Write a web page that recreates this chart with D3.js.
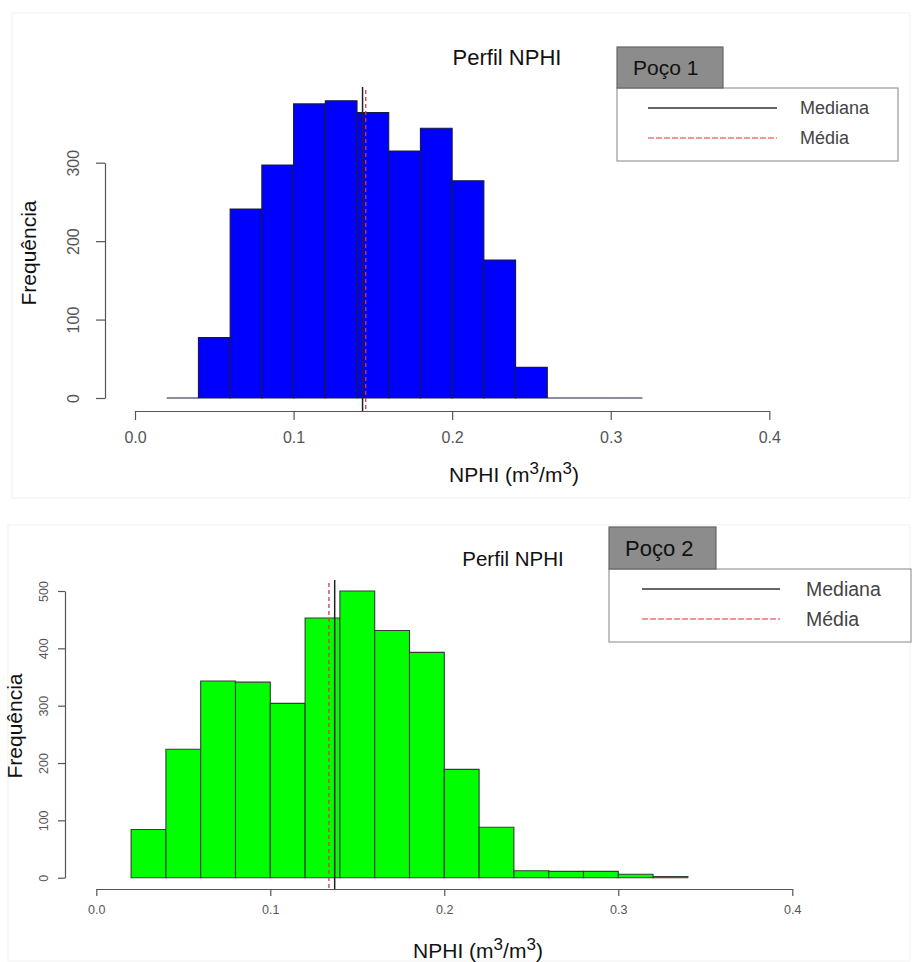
<!DOCTYPE html>
<html>
<head>
<meta charset="utf-8">
<script src="https://cdn.jsdelivr.net/npm/d3@7"></script>
<style>
  body { margin: 0; background: #fff; }
  svg { display: block; font-family: "Liberation Sans", Arial, sans-serif; }
</style>
</head>
<body>
<div id="canvas"></div>
<script>
// histogram data
const binEdges1 = [0.02, 0.04, 0.06, 0.08, 0.1, 0.12, 0.14, 0.16, 0.18, 0.2, 0.22, 0.24, 0.26, 0.28, 0.3, 0.32];
const counts1 = [0, 77, 241, 297, 375, 379, 364, 315, 344, 277, 176, 39, 0, 0, 0];
const median1 = 0.1435;
const mean1 = 0.1455;

const binEdges2 = [0.02, 0.04, 0.06, 0.08, 0.1, 0.12, 0.14, 0.16, 0.18, 0.2, 0.22, 0.24, 0.26, 0.28, 0.3, 0.32, 0.34];
const counts2 = [84, 224, 343, 341, 304, 453, 500, 431, 393, 189, 88, 12, 11, 11, 6, 2];
const median2 = 0.137;
const mean2 = 0.1337;

const xTicks = [0, 0.1, 0.2, 0.3, 0.4];
const yTicks1 = [0, 100, 200, 300];
const yTicks2 = [0, 100, 200, 300, 400, 500];
const legendLabels = ["Mediana", "Média"];
const wellNames = ["Poço 1", "Poço 2"];
const chartTitle = "Perfil NPHI";
const yLabel = "Frequência";

const svg = d3
  .select("#canvas")
  .append("svg")
  .attr("width", 915)
  .attr("height", 962);

const DrawPanel = (edges, counts, median, mean, yTicks, well, L) => {
  const bins = counts.map((c, i) => ({ x0: edges[i], x1: edges[i + 1], n: c }));

  // faint frame of the panel
  svg
    .append("rect")
    .attr("x", L.frame[0])
    .attr("y", L.frame[1])
    .attr("width", L.frame[2])
    .attr("height", L.frame[3])
    .attr("fill", "none")
    .attr("stroke", "#f1f1f1");

  const x = d3.scaleLinear().domain([0, 0.4]).range(L.xRange);
  const yMax = d3.max(yTicks);
  const y = d3.scaleLinear().domain([0, yMax]).range(L.yRange);

  // bars as closed paths so empty bins still show as a line
  svg
    .append("g")
    .selectAll("path")
    .data(bins)
    .join("path")
    .attr("d", (d) => {
      const p = d3.path();
      p.moveTo(x(d.x0), y(0));
      p.lineTo(x(d.x0), y(d.n));
      p.lineTo(x(d.x1), y(d.n));
      p.lineTo(x(d.x1), y(0));
      p.closePath();
      return p.toString();
    })
    .attr("fill", L.fill)
    .attr("stroke", L.stroke)
    .attr("stroke-width", 1.1);

  // x axis (offset below the bars, R style)
  const xAxis = svg
    .append("g")
    .attr("transform", "translate(0," + L.xAxisY + ")")
    .call(d3.axisBottom(x).tickValues(xTicks).tickSize(L.tick).tickSizeOuter(0).tickPadding(L.xPad).tickFormat(d3.format(".1f")));
  xAxis.select(".domain").attr("stroke", "#555").attr("stroke-width", 1.2);
  xAxis.selectAll(".tick line").attr("stroke", "#555").attr("stroke-width", 1.2);
  xAxis
    .selectAll(".tick text")
    .attr("fill", "#555")
    .style("font-size", L.tickFont + "px")
    .style("font-family", "Liberation Sans, Arial, sans-serif");

  // y axis
  const yAxis = svg
    .append("g")
    .attr("transform", "translate(" + L.yAxisX + ",0)")
    .call(d3.axisLeft(y).tickValues(yTicks).tickSize(L.tick).tickSizeOuter(0).tickFormat(d3.format("d")));
  yAxis.select(".domain").attr("stroke", "#555").attr("stroke-width", 1.2);
  yAxis.selectAll(".tick line").attr("stroke", "#555").attr("stroke-width", 1.2);
  yAxis
    .selectAll(".tick text")
    .attr("fill", "#555")
    .attr("x", null)
    .attr("dy", null)
    .attr("transform", "translate(" + -L.yPad + ",0) rotate(-90)")
    .attr("text-anchor", "middle")
    .style("font-size", L.tickFont + "px")
    .style("font-family", "Liberation Sans, Arial, sans-serif");

  // median and mean lines
  svg
    .append("line")
    .attr("x1", x(median))
    .attr("x2", x(median))
    .attr("y1", L.vTop)
    .attr("y2", L.xAxisY)
    .attr("stroke", "#222")
    .attr("stroke-width", 1.5);
  svg
    .append("line")
    .attr("x1", x(mean))
    .attr("x2", x(mean))
    .attr("y1", L.vTop + 3)
    .attr("y2", L.xAxisY)
    .attr("stroke", "#d83a3a")
    .attr("stroke-width", 1.3)
    .attr("stroke-dasharray", "4,3");

  // title
  svg
    .append("text")
    .attr("x", L.title[0])
    .attr("y", L.title[1])
    .attr("text-anchor", "middle")
    .style("font-size", L.titleFont + "px")
    .attr("fill", "#111")
    .text(chartTitle);

  // y label
  svg
    .append("text")
    .attr("transform", "translate(" + L.yLab[0] + "," + L.yLab[1] + ") rotate(-90)")
    .attr("text-anchor", "middle")
    .attr("dy", "0.35em")
    .style("font-size", "21px")
    .attr("fill", "#111")
    .text(yLabel);

  // x label with superscripts
  const xl = svg
    .append("text")
    .attr("x", L.xLab[0])
    .attr("y", L.xLab[1])
    .attr("text-anchor", "middle")
    .style("font-size", "21px")
    .attr("fill", "#111");
  xl.append("tspan").text("NPHI (m");
  xl.append("tspan").attr("dy", -8).style("font-size", "17px").text("3");
  xl.append("tspan").attr("dy", 8).text("/m");
  xl.append("tspan").attr("dy", -8).style("font-size", "17px").text("3");
  xl.append("tspan").attr("dy", 8).text(")");

  // legend
  const lg = L.legend;
  svg
    .append("rect")
    .attr("x", lg.x)
    .attr("y", lg.y)
    .attr("width", lg.w)
    .attr("height", lg.h)
    .attr("fill", "#fff")
    .attr("stroke", "#999")
    .attr("stroke-width", 1.2);
  svg
    .append("rect")
    .attr("x", lg.x)
    .attr("y", lg.y - lg.tabH)
    .attr("width", lg.tabW)
    .attr("height", lg.tabH)
    .attr("fill", "#8c8c8c")
    .attr("stroke", "#666")
    .attr("stroke-width", 1.2);
  svg
    .append("text")
    .attr("x", lg.x + 16)
    .attr("y", lg.y - lg.tabH / 2)
    .attr("dy", "0.35em")
    .style("font-size", lg.tabFont + "px")
    .attr("fill", "#111")
    .text(well);

  legendLabels.forEach((lab, i) => {
    const ly = lg.y + lg.row0 + i * lg.rowGap;
    svg
      .append("line")
      .attr("x1", lg.x + lg.line0)
      .attr("x2", lg.x + lg.line1)
      .attr("y1", ly)
      .attr("y2", ly)
      .attr("stroke", i == 0 ? "#333" : "#ee7777")
      .attr("stroke-width", i == 0 ? 1.6 : 1.4)
      .attr("stroke-dasharray", i == 0 ? null : "6,2");
    svg
      .append("text")
      .attr("x", lg.x + lg.textX)
      .attr("y", ly)
      .attr("dy", "0.35em")
      .style("font-size", lg.font + "px")
      .attr("fill", "#444")
      .text(lab);
  });
};

DrawPanel(binEdges1, counts1, median1, mean1, yTicks1, wellNames[0], {
  frame: [12, 13, 898, 485],
  xRange: [135, 769.3],
  yRange: [398, 162.7],
  fill: "#0000ff",
  stroke: "#1a1a40",
  xAxisY: 411,
  yAxisX: 105,
  tick: 9,
  xPad: 12,
  yPad: 26,
  tickFont: 16,
  vTop: 87,
  title: [507, 65],
  titleFont: 22,
  yLab: [29, 253],
  xLab: [514, 482],
  legend: { x: 617, y: 88, w: 281, h: 73, tabW: 106, tabH: 41, tabFont: 21, font: 18, row0: 20, rowGap: 30, line0: 31, line1: 160, textX: 183 },
});

DrawPanel(binEdges2, counts2, median2, mean2, yTicks2, wellNames[1], {
  frame: [8, 525, 902, 436],
  xRange: [96.3, 792.3],
  yRange: [877.7, 591],
  fill: "#00ff00",
  stroke: "#3a3a3a",
  xAxisY: 889,
  yAxisX: 65,
  tick: 7,
  xPad: 9,
  yPad: 17,
  tickFont: 12.5,
  vTop: 580,
  title: [513, 566],
  titleFont: 20.5,
  yLab: [15, 726],
  xLab: [478, 958],
  legend: { x: 609, y: 569, w: 302, h: 73, tabW: 107, tabH: 42, tabFont: 22, font: 19.5, row0: 20, rowGap: 30, line0: 33, line1: 171, textX: 197 },
});
</script>
</body>
</html>
